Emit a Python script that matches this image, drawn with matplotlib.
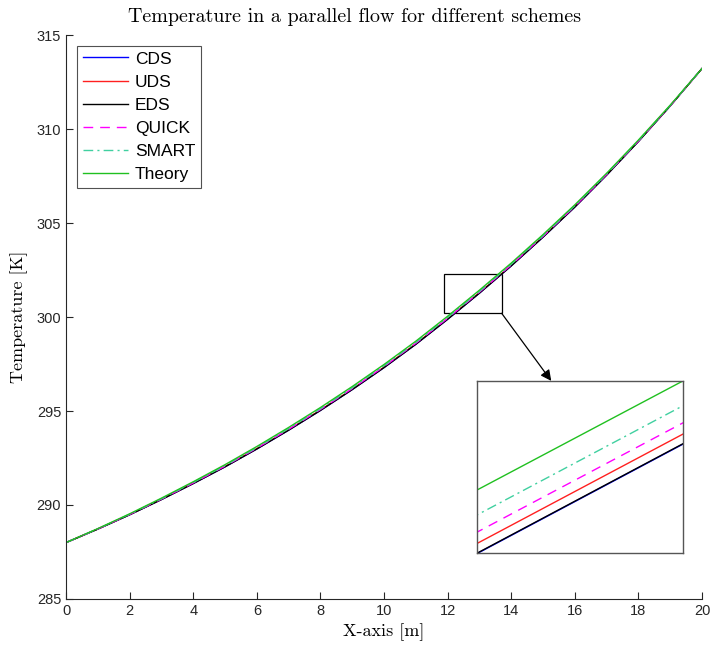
import matplotlib.pyplot as plt
import numpy as np
from matplotlib.patches import Rectangle

# x positions along the channel [m]
x = np.arange(0, 21, 1)

# temperatures [K]
cds = [288.000, 288.720, 289.479, 290.289, 291.139, 292.029, 292.979, 293.979, 295.029, 296.139,
       297.309, 298.549, 299.879, 301.269, 302.719, 304.249, 305.849, 307.549, 309.339, 311.229, 313.220]
uds = [288.000, 288.724, 289.488, 290.301, 291.155, 292.048, 293.000, 294.002, 295.054, 296.165,
       297.335, 298.575, 299.905, 301.294, 302.743, 304.271, 305.868, 307.565, 309.351, 311.236, 313.220]
eds = [288.000, 288.720, 289.480, 290.290, 291.140, 292.030, 292.980, 293.980, 295.030, 296.140,
       297.310, 298.550, 299.880, 301.270, 302.720, 304.250, 305.850, 307.550, 309.340, 311.230, 313.220]
quick = [288.000, 288.728, 289.497, 290.315, 291.172, 292.069, 293.024, 294.028, 295.082, 296.194,
         297.365, 298.605, 299.934, 301.322, 302.770, 304.295, 305.890, 307.583, 309.365, 311.244, 313.220]
smart = [288.000, 288.735, 289.510, 290.335, 291.198, 292.100, 293.060, 294.068, 295.124, 296.238,
         297.410, 298.650, 299.978, 301.365, 302.810, 304.332, 305.922, 307.610, 309.385, 311.255, 313.220]
theory = [288.000, 288.745, 289.530, 290.364, 291.236, 292.146, 293.112, 294.125, 295.185, 296.302,
          297.475, 298.715, 300.042, 301.427, 302.869, 304.385, 305.969, 307.649, 309.414, 311.271, 313.220]

names = ['CDS', 'UDS', 'EDS', 'QUICK', 'SMART', 'Theory']
series = [cds, uds, eds, quick, smart, theory]
colors = ['#0000ff', '#ff2020', '#000000', '#ff00ff', '#40d0a0', '#20c020']
styles = ['-', '-', '-', (0, (7, 5)), (0, (7, 3, 1.5, 3)), '-']

plt.rcParams['font.family'] = ['Liberation Sans', 'DejaVu Sans']
ax_color = '#262626'

fig = plt.figure(figsize=(7.1, 6.5), dpi=100)
ax = fig.add_axes([0.093, 0.0785, 0.8957, 0.8675])

for s, n, c, ls in zip(series, names, colors, styles):
    ax.plot(x, s, color=c, linestyle=ls, linewidth=1.0, label=n)

ax.set_xlim(0, 20)
ax.set_ylim(285, 315)
ax.set_xticks(np.arange(0, 21, 2))
ax.set_yticks(np.arange(285, 316, 5))
ax.spines['top'].set_visible(False)
ax.spines['right'].set_visible(False)
for sp in ['left', 'bottom']:
    ax.spines[sp].set_color(ax_color)
    ax.spines[sp].set_linewidth(0.8)
ax.tick_params(direction='in', length=5, width=0.8, colors=ax_color, labelsize=10.5)

# title is centred on the figure, not the axes
fig.text(0.5, 0.966, 'Temperature in a parallel flow for different schemes', family='cmr10',
         fontsize=14.4, ha='center', va='baseline')
ax.set_xlabel('X-axis [m]', family='cmr10', fontsize=13, labelpad=4)
ax.set_ylabel('Temperature [K]', family='cmr10', fontsize=13, labelpad=6)

leg = ax.legend(loc='upper left', bbox_to_anchor=(0.018, 0.981), fontsize=12.5, fancybox=False,
                edgecolor=ax_color, handlelength=2.6, handletextpad=0.4, labelspacing=0.46,
                borderpad=0.32, borderaxespad=0.0)
leg.get_frame().set_linewidth(0.8)

# zoom box on the main axes
ax.add_patch(Rectangle((11.9, 300.2), 1.8, 2.1, fill=False, edgecolor='black', linewidth=0.9))

# inset
ins = fig.add_axes([0.672, 0.149, 0.290, 0.265])
for s, c, ls in zip(series, colors, styles):
    ins.plot(x, s, color=c, linestyle=ls, linewidth=1.0)
x0, x1 = 12.3, 12.5
ins.set_xlim(x0, x1)
ins.set_ylim(np.interp(x0, x, eds), np.interp(x1, x, theory))
ins.set_xticks([])
ins.set_yticks([])
for sp in ins.spines.values():
    sp.set_color('#555555')
    sp.set_linewidth(1.0)

ax.annotate('', xy=(0.36, 1.0), xycoords=ins.transAxes, xytext=(13.7, 300.2), textcoords='data',
            arrowprops=dict(arrowstyle='-|>', color='black', lw=0.9, mutation_scale=16,
                            shrinkA=0, shrinkB=0))

fig.savefig('out.png', dpi=100)
